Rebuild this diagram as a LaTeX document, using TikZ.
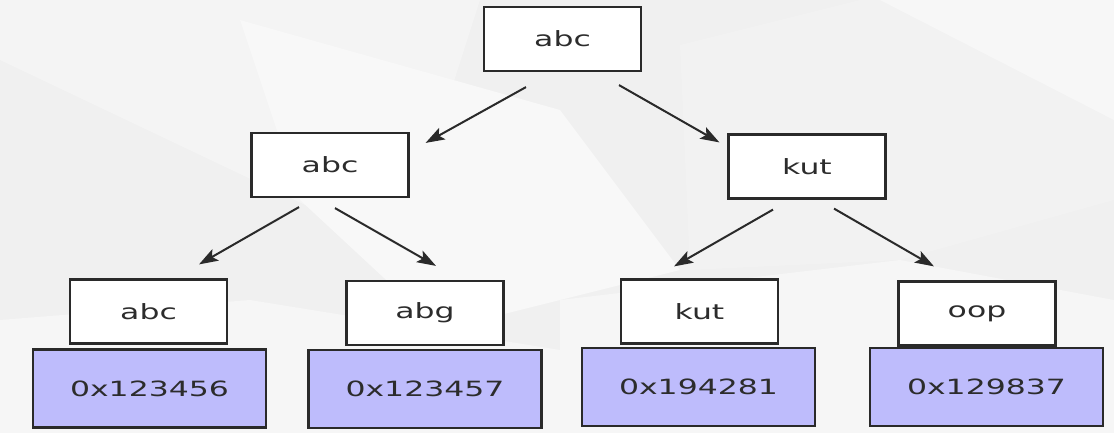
\documentclass[tikz,border=0pt]{standalone}
\usepackage{fontspec}
\newfontfamily\boxfont[FakeStretch=1.5]{DejaVu Sans}
\usetikzlibrary{arrows.meta,calc}
\definecolor{edgec}{HTML}{2A2A2A}
\definecolor{txtc}{HTML}{2C2C2C}
\definecolor{valfill}{RGB}{190,188,252}
\begin{document}
\begin{tikzpicture}[x=1pt,y=-1pt,
  keybox/.style={draw=edgec,line width=2.2pt,fill=white,minimum width=157pt,minimum height=64pt,inner sep=0pt,font=\boxfont\fontsize{21}{25}\selectfont,text=txtc},
  valbox/.style={draw=edgec,line width=2.2pt,fill=valfill,minimum width=233pt,minimum height=78pt,inner sep=0pt,font=\boxfont\fontsize{21}{25}\selectfont,text=txtc},
  arr/.style={draw=edgec,line width=2pt,-{Stealth[length=19pt,width=13pt,inset=4pt]}}]
% background
\useasboundingbox (0,0) rectangle (1114,433);
\fill[fill={rgb,255:red,240;green,240;blue,240}] (0,0) rectangle (1114,433);
\fill[fill={rgb,255:red,244;green,244;blue,244}] (0,0) -- (480,0) -- (400,250) -- (0,60) -- cycle;
\fill[fill={rgb,255:red,248;green,248;blue,248}] (240,20) -- (560,110) -- (680,270) -- (440,330) -- (300,200) -- cycle;
\fill[fill={rgb,255:red,242;green,242;blue,242}] (680,45) -- (860,0) -- (1114,0) -- (1114,200) -- (900,260) -- (690,270) -- cycle;
\fill[fill={rgb,255:red,246;green,246;blue,246}] (0,320) -- (250,300) -- (560,350) -- (560,433) -- (0,433) -- cycle;
\fill[fill={rgb,255:red,247;green,247;blue,247}] (880,0) -- (1114,0) -- (1114,120) -- cycle;
\fill[fill={rgb,255:red,246;green,246;blue,246}] (560,300) -- (900,260) -- (1114,300) -- (1114,433) -- (560,433) -- cycle;
% nodes
\node[keybox] (top)  at (562.5,39)  {abc};
\node[keybox] (midL) at (330,165)   {abc};
\node[keybox] (midR) at (807,166.5) {kut};
\node[keybox] (k1) at (148.5,311.5) {abc};
\node[keybox] (k2) at (425,313)     {abg};
\node[keybox] (k3) at (699.5,311.5) {kut};
\node[keybox] (k4) at (977,313.5)   {oop};
\node[valbox] (v1) at (149.5,388.5) {0x123456};
\node[valbox] (v2) at (425,389)     {0x123457};
\node[valbox] (v3) at (698.5,387)   {0x194281};
\node[valbox] (v4) at (986.5,387)   {0x129837};
% connectors
\draw[arr] ($(top.south)+(-36.5,15)$) -- ($(midL.north east)+(16,11)$);
\draw[arr] ($(top.south)+(56.5,13)$) -- ($(midR.north west)+(-8,9)$);
\draw[arr] ($(midL.south)+(-31,9)$) -- ($(k1.north)+(50.5,-14)$);
\draw[arr] ($(midL.south)+(5,10)$) -- ($(k2.north)+(11,-14)$);
\draw[arr] ($(midR.south)+(-34,10)$) -- ($(k3.north)+(-25.5,-12)$);
\draw[arr] ($(midR.south)+(27,9)$) -- ($(k4.north)+(-43,-14)$);
\end{tikzpicture}
\end{document}
